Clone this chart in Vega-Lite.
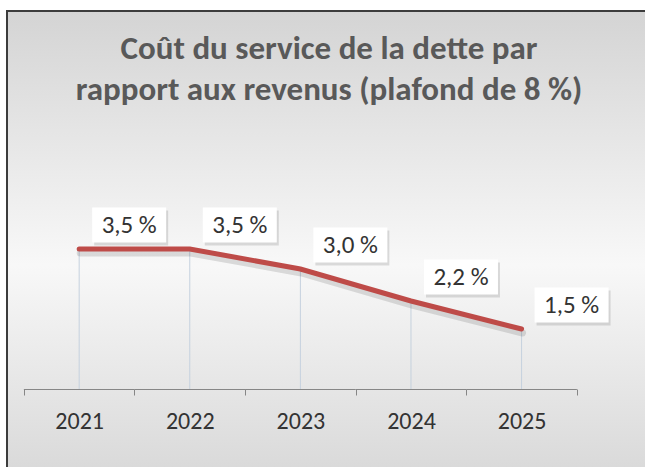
{
  "$schema": "https://vega.github.io/schema/vega-lite/v6.json",
  "autosize": {"type": "none"},
  "padding": {"left": 7, "top": 11, "right": -6, "bottom": -6},
  "width": 644,
  "height": 462,
  "background": "#ffffff",
  "title": {
    "text": ["Coût du service de la dette par", "rapport aux revenus (plafond de 8 %)"],
    "font": "Carlito, Lato, sans-serif",
    "fontSize": 33,
    "fontWeight": "bold",
    "color": "#595959",
    "anchor": "middle",
    "frame": "group",
    "baseline": "top",
    "lineHeight": 41,
    "offset": -96
  },
  "config": {
    "view": {
      "fill": {
        "gradient": "linear",
        "x1": 0, "y1": 0, "x2": 0, "y2": 1,
        "stops": [
          {"offset": 0, "color": "#d4d4d4"},
          {"offset": 0.55, "color": "#f8f8f8"},
          {"offset": 1, "color": "#d9d9d9"}
        ]
      },
      "stroke": "#3c3c3c",
      "strokeWidth": 2
    },
    "font": "Carlito, Lato, sans-serif"
  },
  "data": {
    "values": [
      {"year": "2021", "value": 3.5, "label": "3,5 %"},
      {"year": "2022", "value": 3.5, "label": "3,5 %"},
      {"year": "2023", "value": 3.0, "label": "3,0 %"},
      {"year": "2024", "value": 2.2, "label": "2,2 %"},
      {"year": "2025", "value": 1.5, "label": "1,5 %"}
    ]
  },
  "encoding": {
    "x": {
      "field": "year",
      "type": "nominal",
      "scale": {"paddingInner": 0, "paddingOuter": 0.4114, "align": 0.1855},
      "axis": {
        "title": null,
        "domain": false,
        "grid": false,
        "tickBand": "extent",
        "tickColor": "#868686",
        "tickSize": 6,
        "tickWidth": 1,
        "labelAngle": 0,
        "labelFont": "Carlito, Lato, sans-serif",
        "labelFontSize": 24,
        "labelColor": "#333333",
        "labelPadding": 14,
        "offset": -84
      }
    }
  },
  "layer": [
    {
      "mark": {"type": "rect", "color": "#868686", "y2Offset": 1},
      "encoding": {
        "y": {"datum": 0, "type": "quantitative", "scale": {"domain": [-2.1, 9.45], "zero": false, "nice": false}, "axis": null},
        "y2": {"datum": 0}
      }
    },
    {
      "mark": {"type": "rule", "color": "#c5d1de", "strokeWidth": 1},
      "encoding": {
        "y": {"field": "value", "type": "quantitative", "scale": {"domain": [-2.1, 9.45], "zero": false, "nice": false}, "axis": null},
        "y2": {"datum": 0}
      }
    },
    {
      "mark": {"type": "line", "color": "#000000", "opacity": 0.12, "strokeWidth": 7, "xOffset": 1, "yOffset": 4, "strokeCap": "round"},
      "encoding": {
        "y": {"field": "value", "type": "quantitative", "scale": {"domain": [-2.1, 9.45], "zero": false, "nice": false}, "axis": null}
      }
    },
    {
      "mark": {"type": "line", "color": "#be4b48", "strokeWidth": 5, "strokeCap": "round"},
      "encoding": {
        "y": {"field": "value", "type": "quantitative", "scale": {"domain": [-2.1, 9.45], "zero": false, "nice": false}, "axis": null}
      }
    },
    {
      "mark": {"type": "point", "shape": "M-1,-0.473H1V0.473H-1Z", "filled": true, "fill": "#000000", "opacity": 0.12, "size": 5476, "strokeWidth": 0, "xOffset": 52, "yOffset": -21},
      "encoding": {
        "y": {"field": "value", "type": "quantitative", "scale": {"domain": [-2.1, 9.45], "zero": false, "nice": false}, "axis": null}
      }
    },
    {
      "mark": {"type": "point", "shape": "M-1,-0.473H1V0.473H-1Z", "filled": true, "fill": "#ffffff", "opacity": 1, "size": 5476, "strokeWidth": 0, "xOffset": 50, "yOffset": -24},
      "encoding": {
        "y": {"field": "value", "type": "quantitative", "scale": {"domain": [-2.1, 9.45], "zero": false, "nice": false}, "axis": null}
      }
    },
    {
      "mark": {"type": "text", "font": "Carlito, Lato, sans-serif", "fontSize": 25, "color": "#333333", "align": "center", "baseline": "middle", "dx": 50, "dy": -24},
      "encoding": {
        "y": {"field": "value", "type": "quantitative", "scale": {"domain": [-2.1, 9.45], "zero": false, "nice": false}, "axis": null},
        "text": {"field": "label"}
      }
    }
  ]
}
